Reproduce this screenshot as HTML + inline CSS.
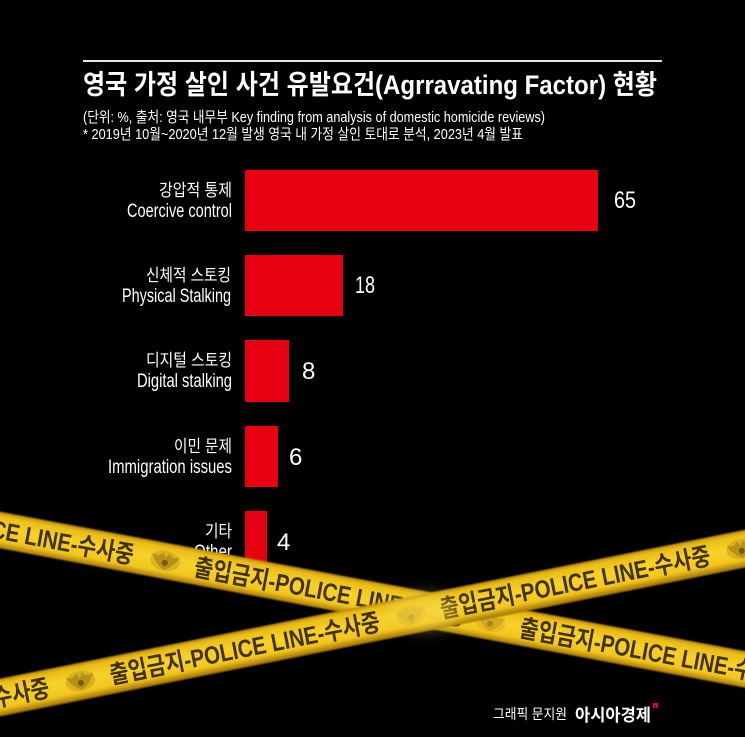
<!DOCTYPE html>
<html>
<head>
<meta charset="utf-8">
<style>
  html,body{margin:0;padding:0;background:#000;}
  svg{display:block;}
  .kr{font-family:"Liberation Sans","Noto Sans CJK KR",sans-serif;}
</style>
</head>
<body>
<svg width="745" height="737" viewBox="0 0 745 737" xmlns="http://www.w3.org/2000/svg">
  <defs>
    <linearGradient id="tapeG" gradientUnits="userSpaceOnUse" x1="0" y1="-18" x2="0" y2="18">
      <stop offset="0" stop-color="#b8890a"/>
      <stop offset="0.12" stop-color="#ebbd16"/>
      <stop offset="0.45" stop-color="#f7d22c"/>
      <stop offset="0.8" stop-color="#f2c61d"/>
      <stop offset="1" stop-color="#a87a06"/>
    </linearGradient>
    <filter id="soft" x="-5%" y="-50%" width="110%" height="200%">
      <feGaussianBlur stdDeviation="0.7"/>
    </filter>
    <filter id="blurX" x="-100%" y="-100%" width="300%" height="300%">
      <feGaussianBlur stdDeviation="8"/>
    </filter>
    <g id="emb">
      <ellipse cx="0" cy="0" rx="15" ry="10" fill="#c89a1e" opacity="0.55"/>
      <path d="M-14,-6 Q-7,-2 -3,-8 L0,-3 L3,-8 Q7,-2 14,-6 Q10,4 0,9 Q-10,4 -14,-6Z" fill="#9a7412" opacity="0.55"/>
      <circle cx="0" cy="2" r="3" fill="#5a430c" opacity="0.7"/>
    </g>
  </defs>

  <rect width="745" height="737" fill="#000"/>

  <!-- Header -->
  <line x1="83" y1="61" x2="662" y2="61" stroke="#e6e6e6" stroke-width="2"/>
  <text class="kr" x="83" y="94" font-size="27" font-weight="bold" fill="#fff" textLength="574" lengthAdjust="spacingAndGlyphs">영국 가정 살인 사건 유발요건(Agrravating Factor) 현황</text>
  <text class="kr" x="83" y="122" font-size="15" fill="#fff" textLength="462" lengthAdjust="spacingAndGlyphs">(단위: %, 출처: 영국 내무부 Key finding from analysis of domestic homicide reviews)</text>
  <text class="kr" x="83" y="139" font-size="15" fill="#fff" textLength="440" lengthAdjust="spacingAndGlyphs">* 2019년 10월~2020년 12월 발생 영국 내 가정 살인 토대로 분석, 2023년 4월 발표</text>

  <!-- Bars -->
  <g fill="#e60012">
    <rect x="245" y="170" width="353" height="61"/>
    <rect x="245" y="255" width="98" height="61"/>
    <rect x="245" y="340" width="44" height="62"/>
    <rect x="245" y="426" width="33" height="61"/>
    <rect x="245" y="511" width="22" height="61"/>
  </g>

  <!-- Labels -->
  <g class="kr" fill="#fff" text-anchor="end">
    <text x="232" y="196" font-size="17" textLength="73" lengthAdjust="spacingAndGlyphs">강압적 통제</text>
    <text x="232" y="217" font-size="19" textLength="105" lengthAdjust="spacingAndGlyphs">Coercive control</text>
    <text x="231" y="281" font-size="17" textLength="85" lengthAdjust="spacingAndGlyphs">신체적 스토킹</text>
    <text x="231" y="302" font-size="19" textLength="109" lengthAdjust="spacingAndGlyphs">Physical Stalking</text>
    <text x="232" y="366" font-size="17" textLength="86" lengthAdjust="spacingAndGlyphs">디지털 스토킹</text>
    <text x="232" y="387" font-size="19" textLength="95" lengthAdjust="spacingAndGlyphs">Digital stalking</text>
    <text x="232" y="452" font-size="17" textLength="58" lengthAdjust="spacingAndGlyphs">이민 문제</text>
    <text x="232" y="473" font-size="19" textLength="124" lengthAdjust="spacingAndGlyphs">Immigration issues</text>
    <text x="232" y="537" font-size="17" textLength="27" lengthAdjust="spacingAndGlyphs">기타</text>
    <text x="232" y="558" font-size="19" textLength="38" lengthAdjust="spacingAndGlyphs">Other</text>
  </g>

  <!-- Values -->
  <g class="kr" fill="#fff" font-size="24">
    <text x="614" y="208" textLength="22" lengthAdjust="spacingAndGlyphs">65</text>
    <text x="355" y="293" textLength="20" lengthAdjust="spacingAndGlyphs">18</text>
    <text x="302" y="379">8</text>
    <text x="289" y="465">6</text>
    <text x="277" y="550">4</text>
  </g>

  <!-- Tape A (descending) -->
  <g transform="translate(0,530) rotate(10.6)">
    <rect x="-60" y="-18" width="880" height="36" fill="url(#tapeG)" filter="url(#soft)"/>
    <g class="kr" font-size="25" font-weight="bold" fill="#33260a" opacity="0.92">
      <text x="-139" y="9" textLength="275" lengthAdjust="spacingAndGlyphs">출입금지-POLICE LINE-수사중</text>
      <text x="198" y="9" textLength="275" lengthAdjust="spacingAndGlyphs">출입금지-POLICE LINE-수사중</text>
      <text x="529" y="9" textLength="275" lengthAdjust="spacingAndGlyphs">출입금지-POLICE LINE-수사중</text>
    </g>
    <use href="#emb" x="168" y="0"/>
    <use href="#emb" x="499" y="0" opacity="0.6"/>
  </g>

  <!-- Tape B (ascending) -->
  <g transform="translate(0,697) rotate(-11.3)">
    <rect x="-60" y="-18" width="880" height="37" fill="url(#tapeG)" filter="url(#soft)"/>
    <g class="kr" font-size="25" font-weight="bold" fill="#33260a" opacity="0.92">
      <text x="-225" y="9" textLength="275" lengthAdjust="spacingAndGlyphs">출입금지-POLICE LINE-수사중</text>
      <text x="112" y="9" textLength="275" lengthAdjust="spacingAndGlyphs">출입금지-POLICE LINE-수사중</text>
      <text x="449" y="9" textLength="275" lengthAdjust="spacingAndGlyphs">출입금지-POLICE LINE-수사중</text>
    </g>
    <use href="#emb" x="82" y="0"/>
    <use href="#emb" x="419" y="0" opacity="0.6"/>
    <use href="#emb" x="756" y="0"/>
  </g>

  <!-- Crossing soft highlight -->
  <ellipse cx="425" cy="612" rx="36" ry="16" fill="#f5d84e" opacity="0.55" filter="url(#blurX)"/>

  <!-- Footer -->
  <text class="kr" x="493" y="719" font-size="14" fill="#fff" textLength="74" lengthAdjust="spacingAndGlyphs">그래픽 문지원</text>
  <text class="kr" x="575" y="721" font-size="17" font-weight="bold" fill="#fff" textLength="76" lengthAdjust="spacingAndGlyphs">아시아경제</text>
  <path d="M653,703 h5 v5 h-2 v-3 h-1 v3 h-2 z" fill="#e60012"/>
</svg>
</body>
</html>
